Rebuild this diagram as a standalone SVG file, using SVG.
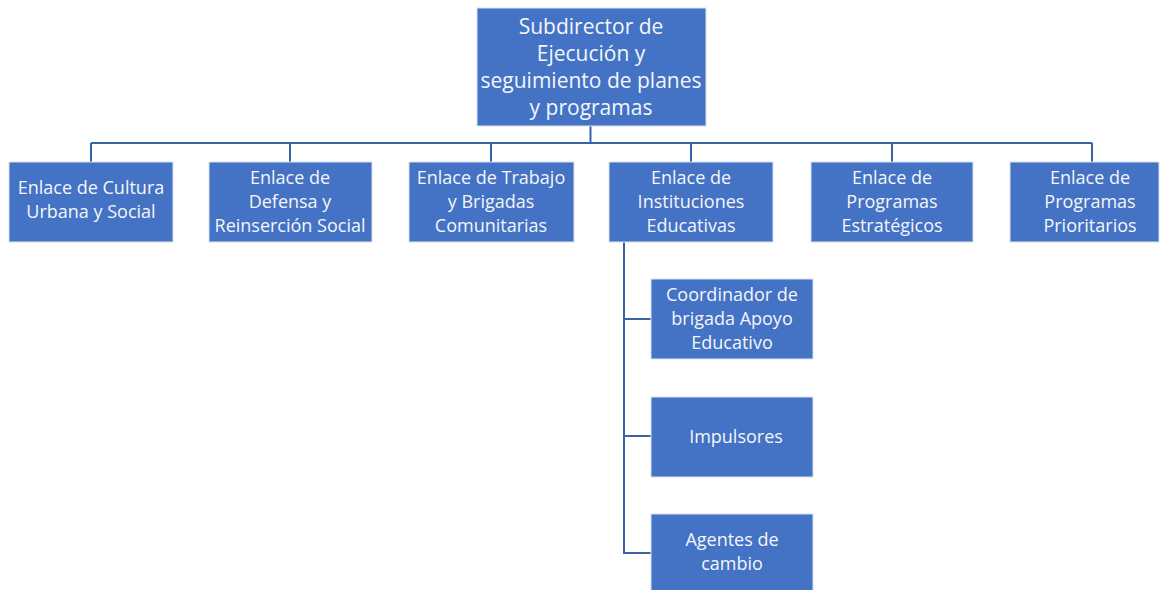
<svg xmlns="http://www.w3.org/2000/svg" width="1162" height="590" viewBox="0 0 1162 590">
<style>
.box{fill:#4472C4;stroke:#d9e1f0;stroke-width:1}
.t{font-family:"Open Sans","Liberation Sans",sans-serif;font-size:18px;fill:#f4f6fa;text-anchor:middle}
.tt{font-size:21px}
.ln{stroke:#3a62a6;stroke-width:2;fill:none}
</style>
<rect width="1162" height="590" fill="#ffffff"/>
<g id="connectors">
<path class="ln" d="M590.5 126V143M91 143H1092M91 143V162M290 143V162M491 143V162M691 143V162M892 143V162M1092 143V162"/>
<path class="ln" d="M624 242V553M623 319H651M623 436H651M623 553H651"/>
</g>
<g id="n-top">
<rect class="box" x="477" y="8" width="229" height="118"/>
<text class="t tt" x="591" y="34">Subdirector de</text>
<text class="t tt" x="591" y="61">Ejecución y</text>
<text class="t tt" x="591" y="88">seguimiento de planes</text>
<text class="t tt" x="591" y="115">y programas</text>
</g>
<g id="n-cultura">
<rect class="box" x="9" y="162" width="164" height="80"/>
<text class="t" x="91" y="194">Enlace de Cultura</text>
<text class="t" x="91" y="218">Urbana y Social</text>
</g>
<g id="n-defensa">
<rect class="box" x="209" y="162" width="163" height="80"/>
<text class="t" x="290" y="184">Enlace de</text>
<text class="t" x="290" y="208">Defensa y</text>
<text class="t" x="290" y="232">Reinserción Social</text>
</g>
<g id="n-trabajo">
<rect class="box" x="409" y="162" width="165" height="80"/>
<text class="t" x="491" y="184">Enlace de Trabajo</text>
<text class="t" x="491" y="208">y Brigadas</text>
<text class="t" x="491" y="232">Comunitarias</text>
</g>
<g id="n-instituciones">
<rect class="box" x="609" y="162" width="164" height="80"/>
<text class="t" x="691" y="184">Enlace de</text>
<text class="t" x="691" y="208">Instituciones</text>
<text class="t" x="691" y="232">Educativas</text>
</g>
<g id="n-estrategicos">
<rect class="box" x="811" y="162" width="162" height="80"/>
<text class="t" x="892" y="184">Enlace de</text>
<text class="t" x="892" y="208">Programas</text>
<text class="t" x="892" y="232">Estratégicos</text>
</g>
<g id="n-prioritarios">
<rect class="box" x="1010" y="162" width="149" height="80"/>
<text class="t" x="1090" y="184">Enlace de</text>
<text class="t" x="1090" y="208">Programas</text>
<text class="t" x="1090" y="232">Prioritarios</text>
</g>
<g id="n-coordinador">
<rect class="box" x="651" y="279" width="162" height="80"/>
<text class="t" x="732" y="301">Coordinador de</text>
<text class="t" x="732" y="325">brigada Apoyo</text>
<text class="t" x="732" y="349">Educativo</text>
</g>
<g id="n-impulsores">
<rect class="box" x="651" y="397" width="162" height="80"/>
<text class="t" x="736" y="443">Impulsores</text>
</g>
<g id="n-agentes">
<rect class="box" x="651" y="514" width="162" height="80"/>
<text class="t" x="732" y="546">Agentes de</text>
<text class="t" x="732" y="570">cambio</text>
</g>
</svg>
